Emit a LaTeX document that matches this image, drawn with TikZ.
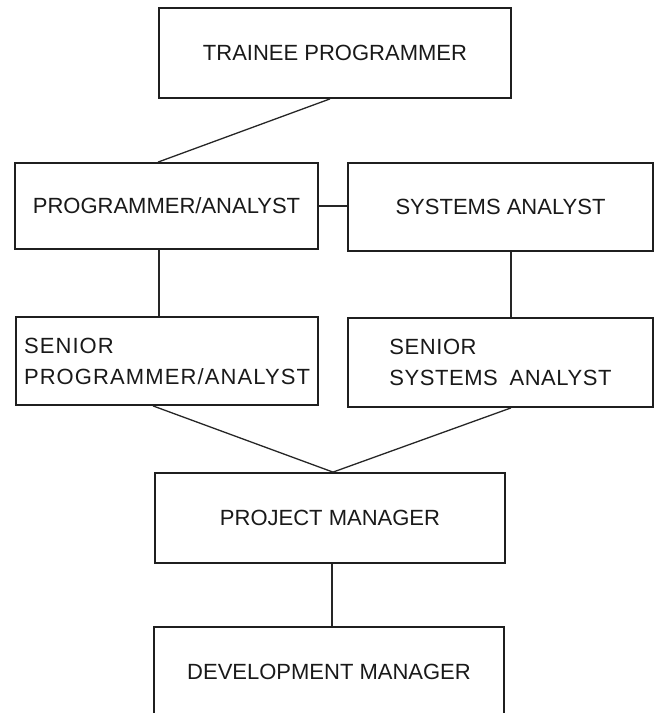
\documentclass[tikz,border=0pt]{standalone}
\usepackage{fontspec}
\setmainfont{Liberation Sans}
\usetikzlibrary{calc}
\begin{document}
\begin{tikzpicture}[x=1pt,y=-1pt,
  post/.style={draw=black!88, line width=1.8pt, inner sep=0pt,
    text=black!90, font=\fontsize{22}{31}\selectfont},
  link/.style={draw=black!85, line width=1.3pt},
  wide/.style={font=\fontsize{22}{31}\selectfont\addfontfeature{LetterSpace=5}},
  widish/.style={font=\fontsize{22}{31}\selectfont\addfontfeature{LetterSpace=2.5}}]
\useasboundingbox (0,0) rectangle (656,713);
\clip (0,0) rectangle (656,713);

% career posts
\node[post, minimum width=352pt, minimum height=90pt] (trainee) at (335,53) {TRAINEE PROGRAMMER};
\node[post, minimum width=303pt, minimum height=86pt] (pa) at (166.5,206) {PROGRAMMER/ANALYST};
\node[post, minimum width=305pt, minimum height=88pt] (sa) at (500.5,207) {SYSTEMS ANALYST};
\node[post, wide, align=left, minimum width=302pt, minimum height=88pt] (spa) at (167,361)
  {SENIOR\\PROGRAMMER/ANALYST};
\node[post, widish, align=left, minimum width=305pt, minimum height=89pt] (ssa) at (500.5,362.5)
  {SENIOR\\SYSTEMS\hspace{5pt} ANALYST};
\node[post, minimum width=350pt, minimum height=90pt] (pm) at (330,518) {PROJECT MANAGER};
\node[post, minimum width=350pt, minimum height=89pt] (dm) at (329,671.5) {DEVELOPMENT MANAGER};

% progression lines
\draw[link] ([xshift=-5pt]trainee.south) -- ([xshift=-8.5pt]pa.north);
\draw[link] (pa.east) -- (pa.east -| sa.west);
\draw[link] ([xshift=-7.5pt]pa.south) -- ([xshift=-7.5pt]pa.south |- spa.north);
\draw[link] ([xshift=10.5pt]sa.south) -- ([xshift=10.5pt]sa.south |- ssa.north);
\coordinate (meet) at ([xshift=3pt]pm.north);
\draw[link] ([xshift=-14pt]spa.south) -- (meet);
\draw[link] ([xshift=10.5pt]ssa.south) -- (meet);
\draw[link] ([xshift=2pt]pm.south) -- ([xshift=2pt]pm.south |- dm.north);
\end{tikzpicture}
\end{document}
